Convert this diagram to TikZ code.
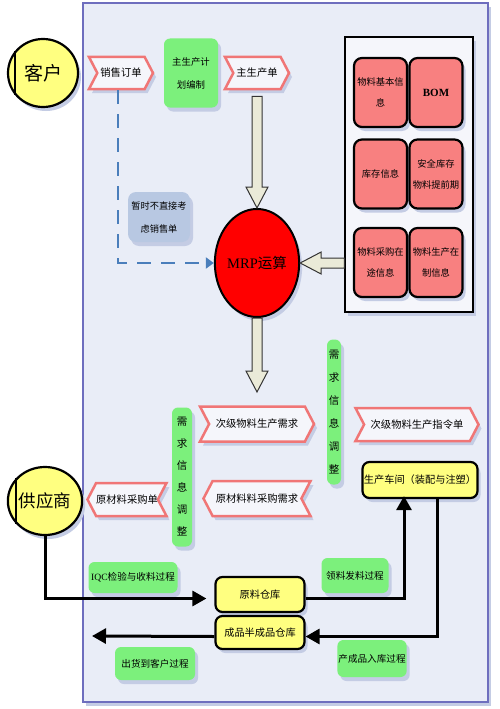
\documentclass[tikz,border=0pt]{standalone}
\usepackage{fontspec}
\setmainfont{Noto Sans CJK SC}
\newfontfamily\latn{Liberation Serif}
\usetikzlibrary{shapes.geometric,shapes.symbols,shadows,arrows.meta,calc}

\definecolor{panelbg}{RGB}{233,237,247}
\definecolor{panelline}{RGB}{110,110,190}
\definecolor{shade}{RGB}{196,204,228}
\definecolor{ribline}{RGB}{240,118,118}
\definecolor{ribfill}{RGB}{245,246,251}
\definecolor{grn}{RGB}{124,240,124}
\definecolor{pinkred}{RGB}{248,128,128}
\definecolor{yel}{RGB}{255,255,128}
\definecolor{beige}{RGB}{234,234,216}
\definecolor{dashblu}{RGB}{74,126,187}
\definecolor{greyblu}{RGB}{184,200,226}

\tikzset{
  shd/.style={drop shadow={fill=shade, opacity=1, shadow xshift=3pt, shadow yshift=-4pt}},
  ribbon/.style={signal, signal to=east, signal from=west, signal pointer angle=125,
    draw=ribline, line width=2.5pt, fill=ribfill, shd, inner sep=0pt,
    minimum height=32pt, font=\fontsize{10.3}{12}\selectfont},
  ribbonl/.style={ribbon, signal to=west, signal from=east},
  greenbox/.style={fill=grn, rounded corners=6pt, shd, inner sep=1pt, align=center,
    font=\fontsize{9.6}{22}\selectfont},
  redbox/.style={draw=black, line width=2.2pt, fill=pinkred, rounded corners=8pt, shd,
    minimum width=53pt, minimum height=69pt, align=center, inner sep=1pt,
    font=\fontsize{9.3}{21}\selectfont},
  yelbox/.style={draw=black, line width=2.2pt, fill=yel, rounded corners=7pt, shd,
    inner sep=1pt, font=\fontsize{10.2}{12}\selectfont},
  party/.style={ellipse, draw=black, line width=2.2pt, fill=yel, shd, inner sep=0pt,
    font=\fontsize{19}{22}\selectfont},
  fatarr/.style={draw=black!80, line width=1pt, fill=beige},
  flow/.style={line width=3pt, -{Triangle[length=14pt,width=15pt]}},
  dashflow/.style={draw=dashblu, line width=2pt, dash pattern=on 14pt off 10pt,
    -{Triangle[length=8pt,width=11pt]}}
}

% block arrow from #1 to #2
\newcommand\fatarrow[2]{%
  \coordinate (fa-b) at ($(#2)!21pt!(#1)$);
  \draw[fatarr] ($(#1)!5pt!90:(#2)$) -- ($(fa-b)!5pt!-90:(#1)$) -- ($(fa-b)!11pt!-90:(#1)$)
    -- (#2) -- ($(fa-b)!11pt!90:(#1)$) -- ($(fa-b)!5pt!90:(#1)$) -- ($(#1)!5pt!-90:(#2)$) -- cycle;}

\begin{document}
\begin{tikzpicture}[x=1pt, y=-1pt]
\useasboundingbox[fill=white] (0,0) rectangle (500,709);

\draw[draw=panelline, line width=1.5pt, fill=panelbg, shd] (83,3) rectangle (488,702);

% customer / supplier
\node[party, minimum width=70pt, minimum height=68pt] (kehu) at (43,73) {客户};
\draw[line width=2pt] (kehu.142) -- (kehu.218);
\node[party, minimum width=72pt, minimum height=68pt] (gys) at (45,501) {\fontsize{17.5}{20}\selectfont 供应商};
\draw[line width=2pt] (gys.142) -- (gys.218);

% top row
\node[ribbon, minimum width=64pt] (xsdd) at (121,73) {销售订单};
\node[greenbox, minimum width=54pt, minimum height=69pt, font=\fontsize{9.4}{23}\selectfont] (zscjh) at (191,73) {主生产计\\划编制};
\node[ribbon, minimum width=64pt] (zsc) at (257,73) {主生产单};

% info block
\node[draw=black, line width=1.5pt, fill=ribfill, shd, minimum width=128pt, minimum height=275pt] (info) at (409,174.5) {};
\node[redbox] (wljb) at (380.5,92.5) {物料基本信\\息};
\node[redbox] (bom) at (436,92.5) {\latn\bfseries\fontsize{11}{12}\selectfont BOM};
\node[redbox] (kcxx) at (380.5,174) {库存信息};
\node[redbox] (aqkc) at (436,174) {安全库存\\物料提前期};
\node[redbox] (cgzt) at (380.5,262.5) {物料采购在\\途信息};
\node[redbox] (sczz) at (436,262.5) {物料生产在\\制信息};

% MRP
\node[ellipse, draw=black, line width=2pt, fill=red, shd, minimum width=83pt, minimum height=108pt, inner sep=0pt,
  font=\fontsize{14.5}{16}\selectfont] (mrp) at (257,263) {{\latn MRP}运算};
\node[fill=greyblu, rounded corners=8pt, shd, minimum width=62pt, minimum height=50pt, align=center, inner sep=1pt,
  font=\fontsize{9.2}{23}\selectfont] (zbkl) at (159,217) {暂时不直接考\\虑销售单};

% demand adjustment bars
\node[greenbox, font=\fontsize{10.5}{23}\selectfont, minimum width=14pt, minimum height=145pt, inner sep=0pt] (tzr) at (334,412) {需\\求\\信\\息\\调\\整};
\node[greenbox, font=\fontsize{10.5}{22}\selectfont, minimum width=20pt, minimum height=139pt, inner sep=0pt] (tzl) at (182,477) {需\\求\\信\\息\\调\\整};

% orders
\node[ribbon, minimum width=114pt, minimum height=35pt] (cjsc) at (257,424) {次级物料生产需求};
\node[ribbonl, minimum width=107pt, minimum height=35pt] (yclxq) at (257,498.5) {原材料料采购需求};
\node[ribbonl, minimum width=71pt, minimum height=33pt] (yclcg) at (127,499.5) {原材料采购单};
\node[ribbon, minimum width=123pt, minimum height=33pt] (cjzl) at (417,424.5) {次级物料生产指令单};

% shop and stores
\node[yelbox, minimum width=115pt, minimum height=36pt] (scjj) at (420,480) {生产车间（装配与注塑）};
\node[yelbox, minimum width=89pt, minimum height=35pt] (ylck) at (260,594.5) {原料仓库};
\node[yelbox, minimum width=89pt, minimum height=33pt] (cpck) at (260,632.5) {成品半成品仓库};

% process labels
\node[greenbox, minimum width=89pt, minimum height=31pt] (iqc) at (133,577.5) {{\latn IQC}检验与收料过程};
\node[greenbox, minimum width=80pt, minimum height=33pt] (chkh) at (155,663.5) {出货到客户过程};
\node[greenbox, minimum width=67pt, minimum height=35pt] (llfl) at (355,575.5) {领料发料过程};
\node[greenbox, minimum width=69pt, minimum height=37pt] (ccrk) at (372,658.5) {产成品入库过程};

% connectors
\coordinate (zsc-out) at ([yshift=-6pt]zsc.south);
\fatarrow{zsc-out}{mrp.north}
\coordinate (info-out) at (mrp.east -| info.west);
\fatarrow{info-out}{mrp.east}
\coordinate (mrp-down) at (257,392);
\fatarrow{mrp.south}{mrp-down}

\draw[dashflow] ([xshift=-3pt]xsdd.south) |- (mrp.west);

\draw[flow, shorten >=8pt] (gys.south) |- ([yshift=-4pt]ylck.west);
\coordinate (ship) at (92,636);
\draw[flow] ([yshift=-4pt]cpck.west) -- (ship);
\draw[flow, shorten >=-3pt] ([yshift=-4pt]ylck.east) -| ([xshift=-16pt]scjj.south);
\draw[flow] ([xshift=17pt]scjj.south) |- ([yshift=-4pt]cpck.east);

\end{tikzpicture}
\end{document}
